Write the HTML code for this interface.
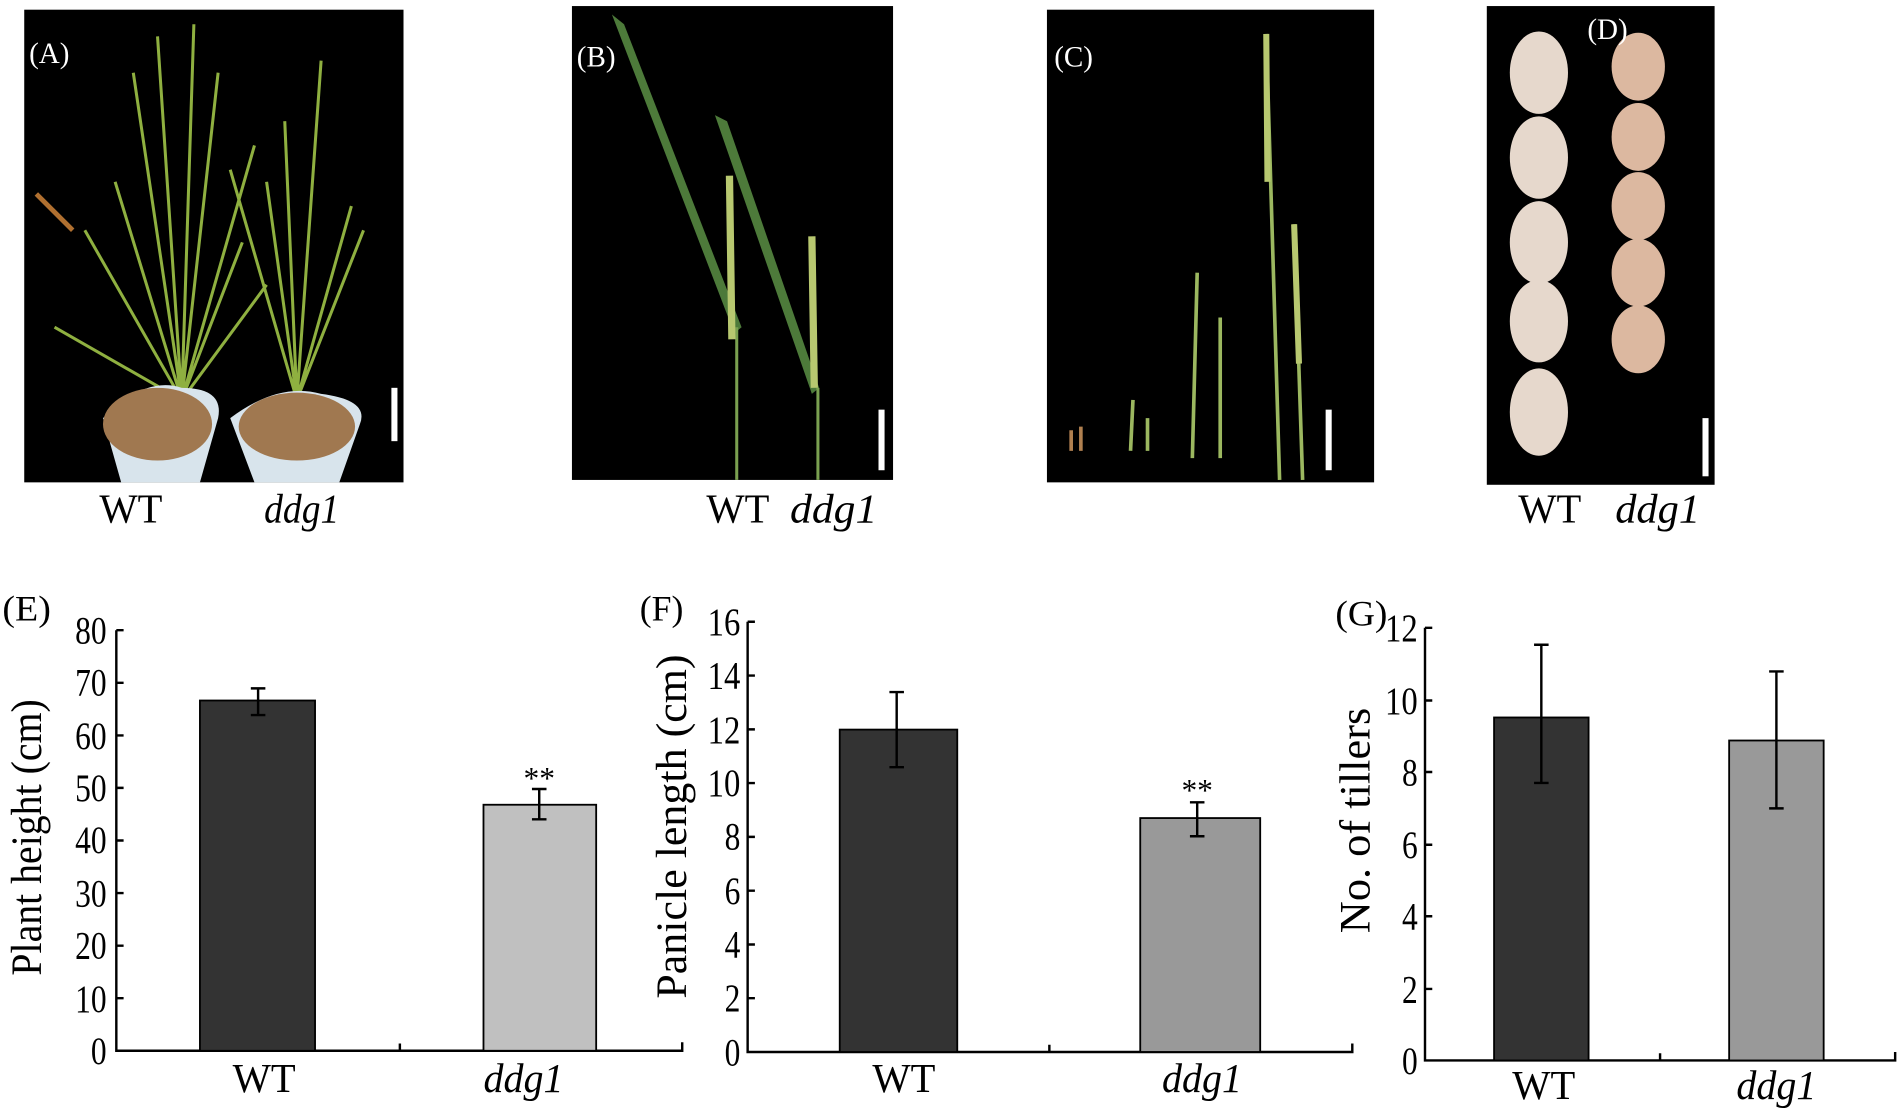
<!DOCTYPE html>
<html><head><style>html,body{margin:0;padding:0;background:#fff}svg{display:block}</style></head>
<body>
<svg width="1900" height="1115" viewBox="0 0 1568 920" preserveAspectRatio="none" xmlns="http://www.w3.org/2000/svg" font-family="Liberation Serif, serif">
<!-- Photo A -->
<rect x="20" y="8" width="313" height="390" fill="#000"/>
<g stroke="#8fb040" stroke-width="2.5" fill="none">
<path d="M150 330 L110 60 M150 330 L130 30 M150 330 L160 20 M150 330 L180 60 M150 330 L210 120 M150 330 L70 190 M150 330 L45 270 M150 330 L95 150 M150 330 L200 200"/>
<path d="M245 330 L235 100 M245 330 L265 50 M245 330 L220 150 M245 330 L290 170 M245 330 L300 190 M245 330 L190 140 M150 330 L220 235" />
</g>
<path d="M30 160 L60 190" stroke="#b07030" stroke-width="4"/>
<path d="M85 345 Q120 310 150 320 Q185 320 180 345 L165 398 L100 398 Z" fill="#d8e4ec"/>
<ellipse cx="130" cy="350" rx="45" ry="30" fill="#a07850"/>
<path d="M190 345 Q230 315 265 325 Q305 330 297 350 L280 398 L210 398 Z" fill="#d8e4ec"/>
<ellipse cx="245" cy="352" rx="48" ry="28" fill="#a07850"/>
<rect x="323" y="320" width="5" height="44" fill="#fff"/>
<text x="24" y="52" font-size="24" fill="#fff">(A)</text>
<text x="82" y="431" font-size="34" textLength="52" lengthAdjust="spacingAndGlyphs">WT</text>
<text x="218" y="431" font-size="34" font-style="italic" textLength="62" lengthAdjust="spacingAndGlyphs">ddg1</text>
<!-- Photo B -->
<rect x="472" y="5" width="265" height="391" fill="#000"/>
<path d="M505 12 L515 20 L612 270 L606 275 Z" fill="#4d7a3a"/>
<path d="M590 95 L600 100 L676 320 L670 325 Z" fill="#4d7a3a"/>
<path d="M608 396 L608 270 M675 396 L675 320" stroke="#7aa050" stroke-width="2.5"/>
<path d="M602 145 L604 280 M670 195 L672 320" stroke="#b8c870" stroke-width="6"/>
<rect x="725" y="338" width="5" height="50" fill="#fff"/>
<text x="476" y="55" font-size="24" fill="#fff">(B)</text>
<text x="583" y="431" font-size="34" textLength="52" lengthAdjust="spacingAndGlyphs">WT</text>
<text x="652" y="431" font-size="34" font-style="italic" textLength="72" lengthAdjust="spacingAndGlyphs">ddg1</text>
<!-- Photo C -->
<rect x="864" y="8" width="270" height="390" fill="#000"/>
<path d="M1045 28 L1056 396 M1068 185 L1075 396 M988 225 L984 378 M1007 262 L1007 378 M935 330 L933 372 M947 345 L947 372" stroke="#9cb860" stroke-width="3"/>
<path d="M1045 28 L1046 150 M1068 185 L1072 300" stroke="#b8c870" stroke-width="5"/>
<path d="M884 355 L884 372 M892 352 L892 372" stroke="#b08050" stroke-width="3"/>
<rect x="1094" y="338" width="5" height="50" fill="#fff"/>
<text x="870" y="55" font-size="24" fill="#fff">(C)</text>
<!-- Photo D -->
<rect x="1227" y="5" width="188" height="395" fill="#000"/>
<g fill="#e6d8cc">
<ellipse cx="1270" cy="60" rx="24" ry="34"/><ellipse cx="1270" cy="130" rx="24" ry="34"/><ellipse cx="1270" cy="200" rx="24" ry="34"/><ellipse cx="1270" cy="265" rx="24" ry="34"/><ellipse cx="1270" cy="340" rx="24" ry="36"/>
</g>
<g fill="#dcb8a0">
<ellipse cx="1352" cy="55" rx="22" ry="28"/><ellipse cx="1352" cy="113" rx="22" ry="28"/><ellipse cx="1352" cy="170" rx="22" ry="28"/><ellipse cx="1352" cy="225" rx="22" ry="28"/><ellipse cx="1352" cy="280" rx="22" ry="28"/>
</g>
<rect x="1405" y="345" width="5" height="48" fill="#fff"/>
<text x="1310" y="32" font-size="24" fill="#fff">(D)</text>
<text x="1253" y="431" font-size="34" textLength="52" lengthAdjust="spacingAndGlyphs">WT</text>
<text x="1333" y="431" font-size="34" font-style="italic" textLength="70" lengthAdjust="spacingAndGlyphs">ddg1</text>

<!-- Chart E -->
<text x="2" y="512" font-size="30" textLength="40" lengthAdjust="spacingAndGlyphs">(E)</text>
<g stroke="#000" stroke-width="2" fill="none">
<path d="M96 520 L96 867 L563 867 V860"/>
<path d="M96 520 H102 M96 563.4 H102 M96 606.8 H102 M96 650.1 H102 M96 693.5 H102 M96 736.9 H102 M96 780.3 H102 M96 823.6 H102 M330 867 V861"/>
</g>
<g font-size="32" text-anchor="end">
<text x="88" y="531" textLength="26" lengthAdjust="spacingAndGlyphs">80</text><text x="88" y="574" textLength="26" lengthAdjust="spacingAndGlyphs">70</text><text x="88" y="618" textLength="26" lengthAdjust="spacingAndGlyphs">60</text><text x="88" y="661" textLength="26" lengthAdjust="spacingAndGlyphs">50</text><text x="88" y="704" textLength="26" lengthAdjust="spacingAndGlyphs">40</text><text x="88" y="748" textLength="26" lengthAdjust="spacingAndGlyphs">30</text><text x="88" y="791" textLength="26" lengthAdjust="spacingAndGlyphs">20</text><text x="88" y="835" textLength="26" lengthAdjust="spacingAndGlyphs">10</text><text x="88" y="878" textLength="13" lengthAdjust="spacingAndGlyphs">0</text>
</g>
<rect x="165" y="578" width="95" height="289" fill="#333" stroke="#000" stroke-width="1.5"/>
<rect x="399" y="664" width="93" height="203" fill="#c0c0c0" stroke="#000" stroke-width="1.5"/>
<path d="M213 568 V590 M207 568 H219 M207 590 H219 M445 651 V676 M439 651 H451 M439 676 H451" stroke="#000" stroke-width="2"/>
<text x="445" y="651" font-size="26" text-anchor="middle">**</text>
<text x="218" y="901" font-size="34" text-anchor="middle" textLength="52" lengthAdjust="spacingAndGlyphs">WT</text>
<text x="432" y="901" font-size="34" text-anchor="middle" font-style="italic" textLength="66" lengthAdjust="spacingAndGlyphs">ddg1</text>
<text transform="translate(34 691) rotate(-90)" font-size="36" text-anchor="middle" textLength="228" lengthAdjust="spacingAndGlyphs">Plant height (cm)</text>

<!-- Chart F -->
<text x="528" y="512" font-size="30" textLength="36" lengthAdjust="spacingAndGlyphs">(F)</text>
<g stroke="#000" stroke-width="2" fill="none">
<path d="M617 513 L617 868 L1116 868 V861"/>
<path d="M617 513 H623 M617 557.4 H623 M617 601.8 H623 M617 646.1 H623 M617 690.5 H623 M617 734.9 H623 M617 779.3 H623 M617 823.6 H623 M866 868 V862"/>
</g>
<g font-size="32" text-anchor="end">
<text x="611" y="524" textLength="27" lengthAdjust="spacingAndGlyphs">16</text><text x="611" y="568" textLength="27" lengthAdjust="spacingAndGlyphs">14</text><text x="611" y="613" textLength="27" lengthAdjust="spacingAndGlyphs">12</text><text x="611" y="657" textLength="27" lengthAdjust="spacingAndGlyphs">10</text><text x="611" y="701" textLength="13" lengthAdjust="spacingAndGlyphs">8</text><text x="611" y="746" textLength="13" lengthAdjust="spacingAndGlyphs">6</text><text x="611" y="790" textLength="13" lengthAdjust="spacingAndGlyphs">4</text><text x="611" y="834" textLength="13" lengthAdjust="spacingAndGlyphs">2</text><text x="611" y="879" textLength="13" lengthAdjust="spacingAndGlyphs">0</text>
</g>
<rect x="693" y="602" width="97" height="266" fill="#333" stroke="#000" stroke-width="1.5"/>
<rect x="941" y="675" width="99" height="193" fill="#999" stroke="#000" stroke-width="1.5"/>
<path d="M740 571 V633 M734 571 H746 M734 633 H746 M988 662 V690 M982 662 H994 M982 690 H994" stroke="#000" stroke-width="2"/>
<text x="988" y="661" font-size="26" text-anchor="middle">**</text>
<text x="746" y="901" font-size="34" text-anchor="middle" textLength="52" lengthAdjust="spacingAndGlyphs">WT</text>
<text x="992" y="901" font-size="34" text-anchor="middle" font-style="italic" textLength="66" lengthAdjust="spacingAndGlyphs">ddg1</text>
<text transform="translate(566 682) rotate(-90)" font-size="36" text-anchor="middle" textLength="284" lengthAdjust="spacingAndGlyphs">Panicle length (cm)</text>

<!-- Chart G -->
<text x="1102" y="516" font-size="30" textLength="43" lengthAdjust="spacingAndGlyphs">(G)</text>
<g stroke="#000" stroke-width="2" fill="none">
<path d="M1176 518 L1176 875 L1564 875 V868"/>
<path d="M1176 518 H1182 M1176 578 H1182 M1176 637 H1182 M1176 697 H1182 M1176 756 H1182 M1176 816 H1182 M1370 875 V869"/>
</g>
<g font-size="32" text-anchor="end">
<text x="1170" y="529" textLength="27" lengthAdjust="spacingAndGlyphs">12</text><text x="1170" y="589" textLength="27" lengthAdjust="spacingAndGlyphs">10</text><text x="1170" y="648" textLength="13" lengthAdjust="spacingAndGlyphs">8</text><text x="1170" y="708" textLength="13" lengthAdjust="spacingAndGlyphs">6</text><text x="1170" y="767" textLength="13" lengthAdjust="spacingAndGlyphs">4</text><text x="1170" y="827" textLength="13" lengthAdjust="spacingAndGlyphs">2</text><text x="1170" y="886" textLength="13" lengthAdjust="spacingAndGlyphs">0</text>
</g>
<rect x="1233" y="592" width="78" height="283" fill="#333" stroke="#000" stroke-width="1.5"/>
<rect x="1427" y="611" width="78" height="264" fill="#999" stroke="#000" stroke-width="1.5"/>
<path d="M1272 532 V646 M1266 532 H1278 M1266 646 H1278 M1466 554 V667 M1460 554 H1472 M1460 667 H1472" stroke="#000" stroke-width="2"/>
<text x="1274" y="907" font-size="34" text-anchor="middle" textLength="52" lengthAdjust="spacingAndGlyphs">WT</text>
<text x="1466" y="907" font-size="34" text-anchor="middle" font-style="italic" textLength="66" lengthAdjust="spacingAndGlyphs">ddg1</text>
<text transform="translate(1130 677) rotate(-90)" font-size="36" text-anchor="middle" textLength="186" lengthAdjust="spacingAndGlyphs">No. of tillers</text>
</svg>
</body></html>
